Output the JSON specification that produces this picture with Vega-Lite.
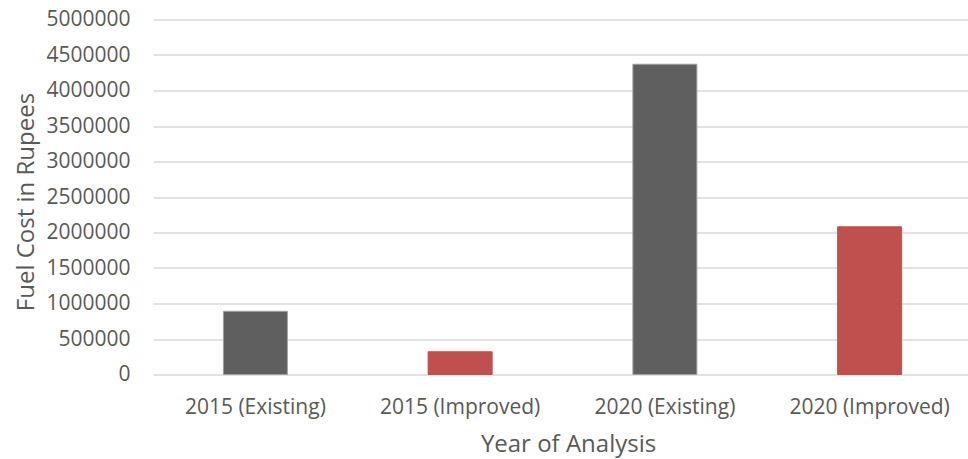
{
  "$schema": "https://vega.github.io/schema/vega-lite/v6.json",
  "autosize": {"type": "none"},
  "width": 815,
  "height": 355,
  "padding": {"left": 153, "top": 19.5, "right": 0, "bottom": 84.5},
  "background": "white",
  "config": {
    "view": {"stroke": null},
    "font": "Open Sans"
  },
  "data": {
    "values": [
      {"Scenario": "2015 (Existing)", "Case": "Existing", "Fuel Cost": 890000},
      {"Scenario": "2015 (Improved)", "Case": "Improved", "Fuel Cost": 320000},
      {"Scenario": "2020 (Existing)", "Case": "Existing", "Fuel Cost": 4370000},
      {"Scenario": "2020 (Improved)", "Case": "Improved", "Fuel Cost": 2080000}
    ]
  },
  "mark": {"type": "bar", "width": 64, "strokeWidth": 1},
  "encoding": {
    "x": {
      "field": "Scenario",
      "type": "nominal",
      "sort": null,
      "scale": {"paddingInner": 0, "paddingOuter": 0, "range": [0, 819]},
      "axis": {
        "title": "Year of Analysis",
        "labelAngle": 0,
        "labelFontSize": 21,
        "labelColor": "#595959",
        "labelBaseline": "alphabetic",
        "labelPadding": 38.5,
        "ticks": false,
        "tickSize": 0,
        "domain": false,
        "grid": false,
        "titleFontSize": 24,
        "titleFontWeight": "normal",
        "titleColor": "#595959",
        "titleBaseline": "alphabetic",
        "titleX": 415,
        "titleY": 77
      }
    },
    "y": {
      "field": "Fuel Cost",
      "type": "quantitative",
      "scale": {"domain": [0, 5000000], "nice": false},
      "axis": {
        "title": "Fuel Cost in Rupees",
        "values": [0, 500000, 1000000, 1500000, 2000000, 2500000, 3000000, 3500000, 4000000, 4500000, 5000000],
        "format": "d",
        "labelFontSize": 21,
        "labelColor": "#595959",
        "labelPadding": 23,
        "ticks": false,
        "tickSize": 0,
        "domain": false,
        "grid": true,
        "gridColor": "#d9d9d9",
        "gridWidth": 1.3,
        "titleFontSize": 24,
        "titleFontWeight": "normal",
        "titleColor": "#595959",
        "titleAngle": -90,
        "titleAlign": "center",
        "titleBaseline": "alphabetic",
        "titleX": -120,
        "titleY": 182
      }
    },
    "color": {
      "field": "Case",
      "type": "nominal",
      "scale": {"domain": ["Existing", "Improved"], "range": ["#5f5f5f", "#c0504d"]},
      "legend": null
    },
    "stroke": {
      "field": "Case",
      "type": "nominal",
      "scale": {"domain": ["Existing", "Improved"], "range": ["#a0a0a0", "#c0504d"]},
      "legend": null
    }
  }
}
